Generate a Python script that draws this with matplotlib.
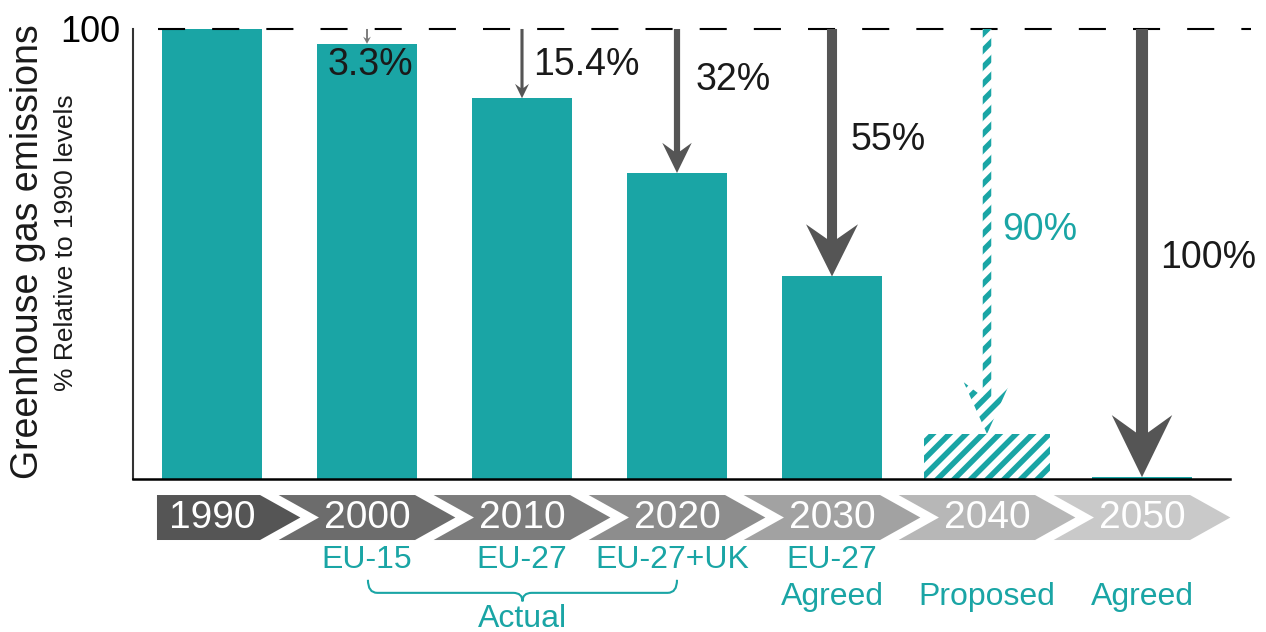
import numpy as np
import matplotlib
matplotlib.use("Agg")
import matplotlib.pyplot as plt
from matplotlib.patches import Polygon
from matplotlib.path import Path
from matplotlib.patches import PathPatch

# -----------------------------------------------------------------------------
# data

years      = ["1990", "2000", "2010", "2020", "2030", "2040", "2050"]
emissions  = [100, 96.7, 84.6, 68, 45, 10, 0.4]
reductions = ["", "3.3%", "15.4%", "32%", "55%", "90%", "100%"]
scopes     = ["", "EU-15", "EU-27", "EU-27+UK", "EU-27", "", ""]
statuses   = ["", "", "", "", "Agreed", "Proposed", "Agreed"]

# -----------------------------------------------------------------------------
# style

teal = "#1aa5a5"
arrow_grey = "#555555"
chevron_greys = ["#555555", "#6c6c6c", "#7c7c7c", "#8d8d8d", "#a2a2a2", "#b7b7b7", "#c9c9c9"]

plt.rcParams['font.family'] = ['Liberation Sans', 'DejaVu Sans']
plt.rcParams['hatch.linewidth'] = 4.0
plt.rcParams['hatch.color'] = teal

fig = plt.figure(figsize=(12.66, 6.32), dpi=100)
ax = fig.add_axes([133 / 1266, 0, 1 - 133 / 1266, 1])
ax.set_xlim(-0.5097, 6.8)
ax.set_ylim(-34, 106.44)

x = np.arange(len(years))

# bars
widths = [0.64] * 5 + [0.81, 0.64]
bars = ax.bar(x, emissions, width=widths, color=teal, zorder=2)
bars[5].set_facecolor("white")
bars[5].set_edgecolor(teal)
bars[5].set_linewidth(0)
bars[5].set_hatch("//")

# baseline + 100 reference
ax.plot([-0.5097, 6.57], [0, 0], color="black", lw=1.8, zorder=3, clip_on=False)
ax.plot([-0.35, 6.7], [100, 100], color="black", lw=1.5, ls=(0, (13, 13)), zorder=4)

# arrows: shaft width, head width (x units), head length (y units)
shaft_w = [0, 0.012, 0.02, 0.04, 0.065, 0.055, 0.078]
head_w  = [0, 0.05, 0.09, 0.19, 0.335, 0.3, 0.39]
head_l  = [0, 1.6, 3.2, 6.7, 11.6, 11.5, 13.8]

for i in range(1, len(years)):
    c = x[i]
    yb = emissions[i]
    sw, hw, hl = shaft_w[i] / 2, head_w[i] / 2, head_l[i]
    pts = [(c, yb), (c - hw, yb + hl), (c - sw, yb + hl * 0.72), (c - sw, 100),
           (c + sw, 100), (c + sw, yb + hl * 0.72), (c + hw, yb + hl)]
    if i == 5:
        arr = Polygon(pts, closed=True, facecolor="white", edgecolor=teal,
                      lw=0, hatch="//", zorder=5)
    else:
        arr = Polygon(pts, closed=True, facecolor=arrow_grey if i > 1 else "#777777",
                      edgecolor="none", zorder=5)
    ax.add_patch(arr)

# reduction labels
ax.text(1.02, 92, reductions[1], ha="center", va="center", fontsize=27, color="#1a1a1a", zorder=6)
lab_pos = {2: (2.07, 92), 3: (3.12, 88.7), 4: (4.12, 75.3), 5: (5.1, 55.3), 6: (6.12, 49.1)}
for i, (lx, ly) in lab_pos.items():
    ax.text(lx, ly, reductions[i], ha="left", va="center", fontsize=27,
            color=teal if i == 5 else "#1a1a1a", zorder=6)

# chevron timeline
top, mid, bot = -3.56, -8.56, -13.56
for i, c in enumerate(x):
    if i == 0:
        pts = [(c - 0.355, top), (c + 0.31, top), (c + 0.57, mid), (c + 0.31, bot), (c - 0.355, bot)]
    else:
        pts = [(c - 0.57, top), (c + 0.31, top), (c + 0.57, mid), (c + 0.31, bot),
               (c - 0.57, bot), (c - 0.31, mid)]
    ax.add_patch(Polygon(pts, closed=True, facecolor=chevron_greys[i], edgecolor="none", clip_on=False))
    ax.text(c, mid, years[i], ha="center", va="center", fontsize=28, color="white")

# scope / status labels
for i, c in enumerate(x):
    if scopes[i]:
        cx = c - 0.03 if scopes[i] == "EU-27+UK" else c
        ax.text(cx, -18, scopes[i], ha="center", va="center", fontsize=23, color=teal)
    if statuses[i]:
        ax.text(c, -26.2, statuses[i], ha="center", va="center", fontsize=23, color=teal)

# brace under actual years
x0, x1 = 1.006, 3.0
xm = (x0 + x1) / 2
yt, yb2, ytip = -22.4, -25.3, -27.2
r = 0.06
verts = [(x0, yt), (x0, yb2), (x0 + r, yb2),
         (xm - r, yb2), (xm, yb2), (xm, ytip),
         (xm, yb2), (xm + r, yb2),
         (x1 - r, yb2), (x1, yb2), (x1, yt)]
codes = [Path.MOVETO, Path.CURVE3, Path.CURVE3,
         Path.LINETO, Path.CURVE3, Path.CURVE3,
         Path.CURVE3, Path.CURVE3,
         Path.LINETO, Path.CURVE3, Path.CURVE3]
ax.add_patch(PathPatch(Path(verts, codes), facecolor="none", edgecolor=teal, lw=1.5))
ax.text(xm, -31.2, "Actual", ha="center", va="center", fontsize=23, color=teal)

# axes styling
for s in ["top", "right", "bottom"]:
    ax.spines[s].set_visible(False)
ax.spines["left"].set_bounds(0, 100)
ax.spines["left"].set_linewidth(1.5)
ax.spines["left"].set_color("#333333")
ax.set_xticks([])
ax.set_yticks([100])
ax.set_yticklabels(["100"], fontsize=26)
ax.tick_params(axis="y", length=0, pad=9)

fig.text(28 / 1266, 1 - 252 / 632, "Greenhouse gas emissions", rotation=90,
         ha="center", va="center", fontsize=27, color="#1a1a1a")
fig.text(66 / 1266, 1 - 243 / 632, "% Relative to 1990 levels", rotation=90,
         ha="center", va="center", fontsize=19, color="#1a1a1a")

fig.savefig("out.png", dpi=100)
